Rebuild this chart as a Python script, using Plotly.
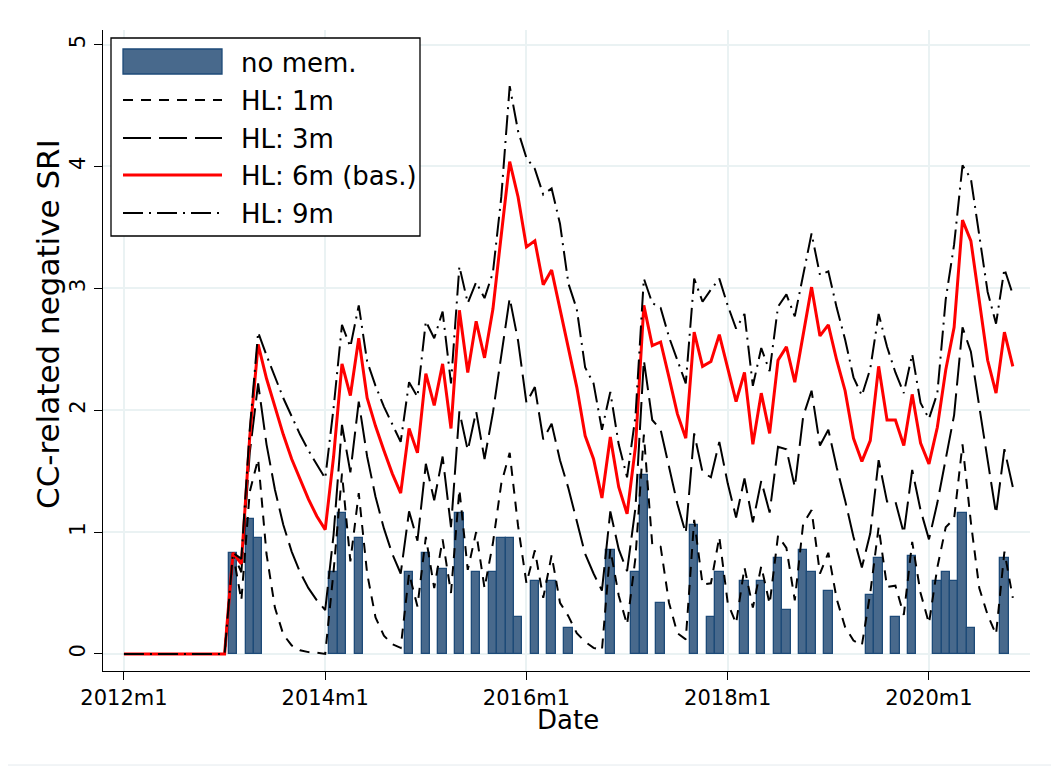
import plotly.graph_objects as go

# ---------------- data ----------------
tick_months = [0, 24, 48, 72, 96]
tick_labels = ["2012m1", "2014m1", "2016m1", "2018m1", "2020m1"]
months = list(range(107))  # 2012m1 ... 2020m11

bar_month = [13, 15, 16, 25, 26, 28, 34, 36, 38, 40, 42, 44, 45, 46, 47, 49, 51, 53,
             58, 61, 62, 64, 68, 70, 71, 74, 76, 78, 79, 81, 82, 84, 89, 90, 92, 94,
             97, 98, 99, 100, 101, 105]
bar_value = [0.83, 1.11, 0.95, 0.67, 1.16, 0.95, 0.67, 0.83, 0.70, 1.16, 0.67, 0.67,
             0.95, 0.95, 0.30, 0.60, 0.60, 0.21, 0.85, 0.67, 1.47, 0.42, 1.06, 0.30,
             0.67, 0.60, 0.60, 0.79, 0.36, 0.85, 0.67, 0.52, 0.48, 0.79, 0.30, 0.80,
             0.60, 0.67, 0.60, 1.16, 0.21, 0.79]

lead_zeros = [0.0] * 13

hl1 = lead_zeros + [
    0.83, 0.44, 1.33, 1.60, 0.82, 0.38, 0.16, 0.07, 0.03, 0.015, 0.01, 0.0,
    0.68, 1.48, 0.76, 1.32, 0.66, 0.30, 0.15, 0.08, 0.05,
    0.66, 0.39, 0.96, 0.54, 0.94, 0.50, 1.35, 0.69, 1.00, 0.54,
    0.91, 1.40, 1.65, 1.05, 0.58, 0.85, 0.46, 0.81, 0.42, 0.31,
    0.17, 0.10, 0.05, 0.03, 0.86, 0.48, 0.24, 0.79, 1.80, 0.90,
    0.88, 0.42, 0.17, 0.12, 1.10, 0.57, 0.58, 0.96, 0.42, 0.25,
    0.71, 0.38, 0.72, 0.41, 0.97, 0.87, 0.44, 1.07, 1.18, 0.66,
    0.83, 0.45, 0.22, 0.11, 0.07, 0.50, 1.04, 0.55, 0.56, 0.32,
    0.92, 0.50, 0.25, 0.71, 1.04, 1.11, 1.72, 1.08, 0.54, 0.32,
    0.16, 0.84, 0.46]

hl3 = lead_zeros + [
    0.83, 0.67, 1.65, 2.22, 1.72, 1.35, 1.06, 0.84, 0.67, 0.54, 0.44, 0.36,
    0.98, 1.88, 1.49, 2.07, 1.62, 1.29, 1.03, 0.82, 0.66,
    1.17, 0.93, 1.56, 1.26, 1.62, 1.04, 1.99, 1.67, 1.99, 1.60,
    1.98, 2.45, 2.92, 2.57, 2.06, 2.19, 1.76, 1.89, 1.59, 1.36,
    1.09, 0.82, 0.66, 0.52, 1.17, 0.86, 0.68, 1.20, 2.41, 1.92,
    1.84, 1.54, 1.23, 0.99, 1.81, 1.49, 1.45, 1.74, 1.40, 1.12,
    1.44, 1.08, 1.42, 1.16, 1.70, 1.68, 1.37, 1.95, 2.16, 1.71,
    1.84, 1.53, 1.26, 0.96, 0.71, 0.99, 1.59, 1.25, 1.25, 0.99,
    1.51, 1.18, 0.94, 1.24, 1.61, 1.96, 2.68, 2.48, 2.03, 1.58,
    1.15, 1.68, 1.37]

hl6 = lead_zeros + [
    0.83, 0.74, 1.78, 2.54, 2.26, 2.02, 1.80, 1.60, 1.43, 1.27, 1.13, 1.02,
    1.62, 2.38, 2.12, 2.59, 2.10, 1.87, 1.67, 1.48, 1.32,
    1.85, 1.65, 2.30, 2.04, 2.38, 1.85, 2.82, 2.31, 2.73, 2.43,
    2.83, 3.44, 4.04, 3.75, 3.34, 3.39, 3.03, 3.15, 2.83, 2.49,
    2.19, 1.79, 1.60, 1.28, 1.78, 1.37, 1.15, 1.70, 2.86, 2.53,
    2.56, 2.27, 1.97, 1.77, 2.64, 2.36, 2.40, 2.62, 2.34, 2.07,
    2.31, 1.72, 2.14, 1.81, 2.41, 2.52, 2.23, 2.62, 3.01, 2.61,
    2.70, 2.41, 2.16, 1.77, 1.58, 1.75, 2.36, 1.92, 1.92, 1.71,
    2.13, 1.73, 1.56, 1.86, 2.33, 2.68, 3.56, 3.39, 2.88, 2.41,
    2.14, 2.64, 2.36]

hl9 = lead_zeros + [
    0.83, 0.78, 1.84, 2.64, 2.45, 2.27, 2.10, 1.95, 1.80, 1.67, 1.55, 1.44,
    2.02, 2.70, 2.52, 2.86, 2.40, 2.20, 2.03, 1.88, 1.74,
    2.23, 2.11, 2.73, 2.59, 2.81, 2.22, 3.18, 2.88, 3.05, 2.92,
    3.13, 3.75, 4.66, 4.29, 4.07, 3.98, 3.77, 3.82, 3.53, 3.04,
    2.83, 2.35, 2.22, 1.84, 2.15, 1.72, 1.45, 1.95, 3.08, 2.88,
    2.84, 2.60, 2.41, 2.22, 3.08, 2.89, 2.99, 3.08, 2.86, 2.67,
    2.79, 2.20, 2.51, 2.32, 2.85, 2.95, 2.77, 3.12, 3.45, 3.11,
    3.14, 2.84, 2.58, 2.27, 2.12, 2.34, 2.79, 2.52, 2.31, 2.14,
    2.46, 2.06, 1.93, 2.14, 2.91, 3.36, 4.01, 3.90, 3.45, 2.97,
    2.71, 3.16, 2.95]

legend_names = ["no mem.", "HL: 1m", "HL: 3m", "HL: 6m (bas.)", "HL: 9m"]
x_title = "Date"
y_title = "CC-related negative SRI"

# ---------------- styles ----------------
FONT = "DejaVu Sans"
BAR_FILL = "#48698c"
BAR_EDGE = "#1d4a78"
DASH1 = "10px,8px"
DASH3 = "28px,8px"
DASH9 = "20px,6px,2px,6px"
GRID = "#eaf2f3"

# figure pixel geometry (page body has an 8px margin, so screen = figure + 8)
OFF = 8
W, H = 1059, 769
PLOT_L, PLOT_R, PLOT_T, PLOT_B = 103, 1030, 30, 671   # target screen positions
L = PLOT_L - OFF
T = PLOT_T - OFF
R = W - (PLOT_R - OFF)
B = H - (PLOT_B - OFF)
PW, PH = W - L - R, H - T - B


def px(xs):
    return (xs - OFF - L) / PW


def py(ys):
    return (H - B - (ys - OFF)) / PH


fig = go.Figure()
fig.add_trace(go.Bar(x=bar_month, y=bar_value, width=1.0,
                     marker=dict(color=BAR_FILL, line=dict(color=BAR_EDGE, width=1.3)),
                     showlegend=False, hoverinfo="skip"))
line_specs = [
    (hl1, "black", 2.0, DASH1),
    (hl3, "black", 2.0, DASH3),
    (hl6, "red", 3.0, "solid"),
    (hl9, "black", 2.0, DASH9),
]
for ys, col, w, d in line_specs:
    fig.add_trace(go.Scatter(x=months, y=ys, mode="lines",
                             line=dict(color=col, width=w, dash=d),
                             showlegend=False, hoverinfo="skip"))

# ---------------- manual legend ----------------
shapes = []
annotations = []
shapes.append(dict(type="rect", xref="paper", yref="paper",
                   x0=px(111), x1=px(420), y0=py(236), y1=py(38),
                   line=dict(color="black", width=1.3), fillcolor="white", layer="above"))
row_y = [62, 100, 138, 175, 213]
shapes.append(dict(type="rect", xref="paper", yref="paper",
                   x0=px(123), x1=px(222), y0=py(74), y1=py(49),
                   line=dict(color=BAR_EDGE, width=1.3), fillcolor=BAR_FILL, layer="above"))
for (ys, col, w, d), yy in zip(line_specs, row_y[1:]):
    shapes.append(dict(type="line", xref="paper", yref="paper",
                       x0=px(123), x1=px(222), y0=py(yy), y1=py(yy),
                       line=dict(color=col, width=w, dash=d), layer="above"))
for name, yy in zip(legend_names, row_y):
    annotations.append(dict(xref="paper", yref="paper", x=px(239), y=py(yy + 1),
                            text=name, showarrow=False, xanchor="left", yanchor="middle",
                            font=dict(family=FONT, size=26, color="black")))

# axis titles
annotations.append(dict(xref="paper", yref="paper", x=px(568), y=py(720),
                        text=x_title, showarrow=False, xanchor="center", yanchor="middle",
                        font=dict(family=FONT, size=26, color="black")))
annotations.append(dict(xref="paper", yref="paper", x=px(48), y=py(324),
                        text=y_title, showarrow=False, xanchor="center", yanchor="middle",
                        textangle=-90,
                        font=dict(family=FONT, size=31, color="black")))

# faint outer frame of the graph region (left & bottom edges visible)
shapes.append(dict(type="rect", xref="paper", yref="paper",
                   x0=px(4), x1=px(1075), y0=py(765), y1=py(-20),
                   line=dict(color="#e4eaee", width=1), fillcolor="rgba(0,0,0,0)", layer="below"))

fig.update_layout(
    width=W, height=H,
    margin=dict(l=L, r=R, t=T, b=B, pad=0, autoexpand=False),
    paper_bgcolor="white", plot_bgcolor="white",
    bargap=0,
    font=dict(family=FONT, color="black"),
    shapes=shapes, annotations=annotations,
    showlegend=False,
)
fig.update_xaxes(
    range=[-2.5, 108.05], tickvals=tick_months, ticktext=tick_labels,
    ticks="outside", ticklen=8, tickwidth=1.3, tickcolor="black",
    showline=True, linecolor="black", linewidth=1.3,
    showgrid=True, gridcolor=GRID, gridwidth=2, zeroline=False,
    tickfont=dict(family=FONT, size=21), automargin=False,
)
fig.update_yaxes(
    range=[-0.14, 5.12], tickvals=[0, 1, 2, 3, 4, 5],
    ticks="outside", ticklen=8, tickwidth=1.3, tickcolor="black", tickangle=-90,
    showline=True, linecolor="black", linewidth=1.3,
    showgrid=True, gridcolor=GRID, gridwidth=2, zeroline=False,
    tickfont=dict(family=FONT, size=21), automargin=False,
)

fig.write_html("out.html")
